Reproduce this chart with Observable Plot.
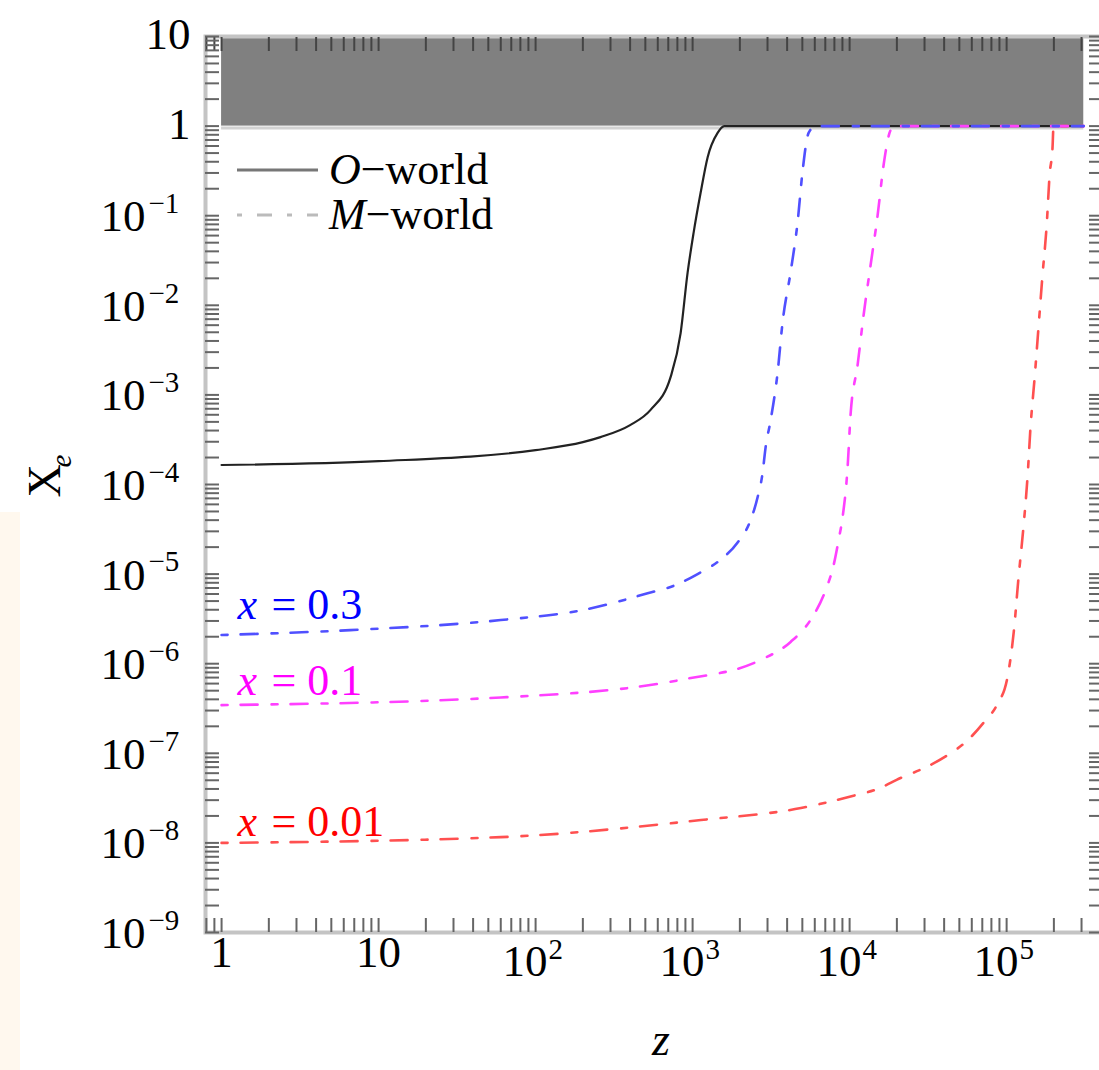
<!DOCTYPE html>
<html><head><meta charset="utf-8">
<script src="https://cdn.jsdelivr.net/npm/d3@7"></script>
<script src="https://cdn.jsdelivr.net/npm/@observablehq/plot@0.6"></script>
<style>
html,body{margin:0;padding:0;background:#fff;overflow:hidden;width:1099px;height:1070px;}
#chart{position:absolute;left:0;top:0;}
#strip{position:absolute;left:0;top:512px;width:20px;height:558px;background:#fff8ee;}
</style></head><body>
<div id="chart"></div>
<div id="strip"></div>
<script>
// ---------------- data ----------------
const seriesNames = ["O-world", "x = 0.3", "x = 0.1", "x = 0.01"];
const seriesColors = ["#222222", "#5050ff", "#ff40ff", "#ff5050"];
const labelColors = ["#000", "#0000ff", "#ff00ff", "#ff0000"];

const zO  = [1, 10, 100, 200, 259, 400, 540, 724, 839, 929, 1014, 1124, 1247, 1443, 1590, 3.1e5];
const xeO = [1.65e-4, 1.82e-4, 2.42e-4, 2.97e-4, 3.38e-4, 4.6e-4, 6.8e-4, 1.58e-3, 4.9e-3, 0.023, 0.064, 0.179, 0.45, 0.84, 1, 1];

const z03  = [1, 6.6, 60, 200, 517, 757, 1076, 1507, 1935, 2340, 2594, 2790, 2917, 3140, 3475, 3743, 4210, 4665, 5010, 5480, 6070, 3.1e5];
const xe03 = [2.09e-6, 2.37e-6, 3.07e-6, 3.97e-6, 6.1e-6, 7.4e-6, 1.0e-5, 1.45e-5, 2.25e-5, 4.0e-5, 7.2e-5, 1.34e-4, 2.6e-4, 5.2e-4, 1.75e-3, 6.5e-3, 0.0235, 0.085, 0.307, 0.84, 1, 1];

const z01  = [1, 60, 839, 2710, 4210, 5650, 7030, 7910, 8510, 9020, 9710, 10140, 11240, 12280, 13600, 15070, 16470, 18240, 19500, 3.1e5];
const xe01 = [3.45e-7, 4.2e-7, 6.6e-7, 1.1e-6, 1.75e-6, 3.1e-6, 6.6e-6, 1.26e-5, 2.4e-5, 4.3e-5, 1.56e-4, 6.0e-4, 2.15e-3, 7.8e-3, 0.028, 0.10, 0.37, 0.9, 1, 1];

const z001  = [1, 60, 1130, 4900, 10140, 15070, 21100, 29600, 42000, 56500, 71400, 87000, 101000, 111000, 119000, 128000, 136000, 142000, 151000, 160000, 169000, 180000, 188000, 196000, 199000, 3.1e5];
const xe001 = [1.0e-8, 1.16e-8, 1.8e-8, 2.45e-8, 3.3e-8, 4.0e-8, 5.3e-8, 6.8e-8, 9.5e-8, 1.4e-7, 2.2e-7, 3.5e-7, 6.9e-7, 2.25e-6, 9.0e-6, 3.35e-5, 1.24e-4, 4.4e-4, 1.6e-3, 6.0e-3, 0.021, 0.079, 0.29, 0.57, 1, 1];

const zSeries = [zO, z03, z01, z001];
const xeSeries = [xeO, xe03, xe01, xe001];

// shaded (forbidden) region
const shadeZ = [1, 3.1e5];
const shadeXe = [1, 10];

// curve label positions (Xe value where each label sits) and texts
const curveLabelXe = [4.5e-6, 6.4e-7, 1.7e-8];
const curveLabelVar = ["x", "x", "x"];
const curveLabelRest = ["= 0.3", "= 0.1", "= 0.01"];

// axes
const xDomain = [0.79, 4.08e5];
const yDomain = [1e-9, 10];
const xMajor = [1, 10, 100, 1e3, 1e4, 1e5];
const xMajorBase = ["1", "10", "10", "10", "10", "10"];
const xMajorExp = ["", "", "2", "3", "4", "5"];
const yMajor = [10, 1, 1e-1, 1e-2, 1e-3, 1e-4, 1e-5, 1e-6, 1e-7, 1e-8, 1e-9];
const yMajorBase = ["10", "1", "10", "10", "10", "10", "10", "10", "10", "10", "10"];
const yMajorExp = ["", "", "−1", "−2", "−3", "−4", "−5", "−6", "−7", "−8", "−9"];
const mantissas = [1, 2, 3, 4, 5, 6, 7, 8, 9];
const xDecades = [0.1, 1, 10, 100, 1e3, 1e4, 1e5];
const yDecades = [1e-9, 1e-8, 1e-7, 1e-6, 1e-5, 1e-4, 1e-3, 1e-2, 1e-1, 1, 10];

const legendNames = ["O", "M"];
const legendRest = ["−world", "−world"];
const xTitle = "z";
const yTitle = "X";
const yTitleSub = "e";

// --------------- build ---------------
const serif = "'Liberation Serif', 'Times New Roman', serif";
const xMinor = xDecades.flatMap(d => mantissas.map(m => +(m * d).toPrecision(3))).filter(v => v >= xDomain[0] && v <= xDomain[1]);
const yMinor = yDecades.flatMap(d => mantissas.map(m => +(m * d).toPrecision(3))).filter(v => v >= yDomain[0] && v <= yDomain[1] * 1.0001);

const rows = zSeries.map((zs, i) => zs.map((z, j) => ({series: seriesNames[i], z, xe: xeSeries[i][j]})));

const yPlain = yMajor.map((v, i) => ({v, t: yMajorBase[i], e: yMajorExp[i]}));
const xPlain = xMajor.map((v, i) => ({v, t: xMajorBase[i], e: xMajorExp[i]}));

const dash = "6,13,17,14";
const tickOpts = {tickFormat: () => "", label: null, stroke: "#666", strokeWidth: 2};

const marks = [
  Plot.rect([{x1: shadeZ[0], x2: shadeZ[1], y1: shadeXe[0], y2: shadeXe[1]}], {x1: "x1", x2: "x2", y1: "y1", y2: "y2", fill: "#808080"}),
  Plot.ruleY([shadeXe[0]], {x1: shadeZ[0], x2: shadeZ[1], stroke: "#d2d2d2", strokeWidth: 3, dy: 2}),
  Plot.line(rows[0], {x: "z", y: "xe", stroke: seriesColors[0], strokeWidth: 2.2, curve: "monotone-x"}),
  Plot.line(rows[3], {x: "z", y: "xe", stroke: seriesColors[3], strokeWidth: 2.6, strokeDasharray: dash, curve: "monotone-x"}),
  Plot.line(rows[2], {x: "z", y: "xe", stroke: seriesColors[2], strokeWidth: 2.6, strokeDasharray: dash, curve: "monotone-x"}),
  Plot.line(rows[1], {x: "z", y: "xe", stroke: seriesColors[1], strokeWidth: 2.6, strokeDasharray: dash, curve: "monotone-x"}),
  Plot.frame({stroke: "#c4c4c4", strokeWidth: 4}),
  Plot.axisX(xMinor, {anchor: "bottom", tickSize: -14, ...tickOpts}),
  Plot.axisX(xMinor, {anchor: "top", tickSize: -14, ...tickOpts, stroke: "#444"}),
  Plot.axisY(yMinor, {anchor: "left", tickSize: -14, ...tickOpts}),
  Plot.axisY(yMinor, {anchor: "right", tickSize: -14, ...tickOpts}),
  // y tick labels
  Plot.text(yPlain.filter(d => d.e === ""), {y: "v", text: "t", frameAnchor: "left", dx: -15, dy: -2, textAnchor: "end", fontSize: 45, fontFamily: serif, fill: "#000"}),
  Plot.text(yPlain.filter(d => d.e !== ""), {y: "v", text: "t", frameAnchor: "left", dx: -60, dy: 1, textAnchor: "end", fontSize: 45, fontFamily: serif, fill: "#000"}),
  Plot.text(yPlain.filter(d => d.e !== ""), {y: "v", text: "e", frameAnchor: "left", dx: -57, dy: -12, textAnchor: "start", fontSize: 29, fontFamily: serif, fill: "#000"}),
  // x tick labels
  Plot.text(xPlain.filter(d => d.e === ""), {x: "v", text: "t", frameAnchor: "bottom", dy: 34, textAnchor: "middle", fontSize: 45, fontFamily: serif, fill: "#000"}),
  Plot.text(xPlain.filter(d => d.e !== ""), {x: "v", text: "t", frameAnchor: "bottom", dx: 12, dy: 43, textAnchor: "end", fontSize: 45, fontFamily: serif, fill: "#000"}),
  Plot.text(xPlain.filter(d => d.e !== ""), {x: "v", text: "e", frameAnchor: "bottom", dx: 13, dy: 26, textAnchor: "start", fontSize: 29, fontFamily: serif, fill: "#000"}),
  // axis titles
  Plot.text([xTitle], {frameAnchor: "bottom", dx: 7, dy: 122, fontSize: 46, fontStyle: "italic", fontFamily: serif, fill: "#000"}),
  Plot.text([yTitle], {frameAnchor: "left", dx: -160, dy: 13, rotate: -90, fontSize: 46, fontFamily: serif, fill: "#000"}),
  Plot.text([yTitleSub], {frameAnchor: "left", dx: -144, dy: -17, rotate: -90, fontSize: 29, fontStyle: "italic", fontFamily: serif, fill: "#000"}),
  // curve labels
  Plot.text(curveLabelXe.map((v, i) => ({v, t: curveLabelVar[i], c: labelColors[i + 1]})), {y: "v", text: "t", frameAnchor: "left", dx: 32, textAnchor: "start", fontSize: 44, fontStyle: "italic", fontFamily: serif, fill: "c"}),
  Plot.text(curveLabelXe.map((v, i) => ({v, t: curveLabelRest[i], c: labelColors[i + 1]})), {y: "v", text: "t", frameAnchor: "left", dx: 66, textAnchor: "start", fontSize: 44, fontFamily: serif, fill: "c"})
];

const plot = Plot.plot({
  width: 1102,
  height: 1070,
  marginLeft: 205,
  marginRight: 0,
  marginTop: 36,
  marginBottom: 138,
  style: {maxWidth: "none", background: "transparent", overflow: "visible"},
  x: {type: "log", domain: xDomain, axis: null},
  y: {type: "log", domain: yDomain, axis: null},
  color: {type: "identity"},
  marks
});

// legend (drawn on top of the plot's svg)
const svg = d3.select(plot);
const lg = svg.append("g").attr("font-family", serif).attr("font-size", 44).attr("fill", "#000").attr("text-anchor", "start");
const legendY = [170, 215];
const legendStyles = [{color: "#777", dasharray: null}, {color: "#bbb", dasharray: "5,15,15,15"}];
legendNames.forEach((n, i) => {
  lg.append("line").attr("x1", 237).attr("x2", 318).attr("y1", legendY[i]).attr("y2", legendY[i])
    .attr("stroke", legendStyles[i].color).attr("stroke-width", 3)
    .attr("stroke-dasharray", legendStyles[i].dasharray);
  const t = lg.append("text").attr("x", 329).attr("y", legendY[i]).attr("dy", "0.32em").attr("text-anchor", "start");
  t.append("tspan").attr("font-style", "italic").text(n);
  t.append("tspan").text(legendRest[i]);
});

document.getElementById("chart").appendChild(plot);
</script>
</body></html>
